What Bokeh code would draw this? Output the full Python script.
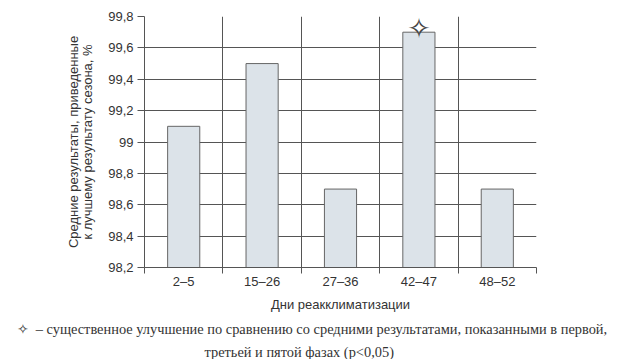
from bokeh.plotting import figure
from bokeh.models import FixedTicker, Range1d, Title, ColumnDataSource
from bokeh.core.properties import value
from bokeh.embed import file_html
from bokeh.resources import INLINE

# ---- data ----
categories = ["2–5", "15–26", "27–36", "42–47", "48–52"]
values = [99.1, 99.5, 98.7, 99.7, 98.7]
significant = ["42–47"]
y_ticks = [98.2, 98.4, 98.6, 98.8, 99.0, 99.2, 99.4, 99.6, 99.8]
y_tick_labels = ["98,2", "98,4", "98,6", "98,8", "99", "99,2", "99,4", "99,6", "99,8"]
x_label = "Дни реакклиматизации"
y_label = "Средние результаты, приведенные\nк лучшему результату сезона, %"
footnote_1 = "✧\u00a0\u00a0– существенное улучшение по сравнению со средними результатами, показанными в первой,"
footnote_2 = "третьей и пятой фазах (p<0,05)"
star_char = "✧"

GRID = "#555555"
TEXT = "#333333"
SANS = "Liberation Sans"
SERIF = "Liberation Serif"

n = len(categories)
centers = [i + 0.5 for i in range(n)]
bottoms = [y_ticks[0]] * n
src = ColumnDataSource(dict(x=centers, top=values, bottom=bottoms))

p = figure(width=617, height=359, output_backend="svg", toolbar_location=None,
           x_range=Range1d(0, n), y_range=Range1d(y_ticks[0], y_ticks[-1]),
           min_border_left=144, min_border_right=81, min_border_top=16, min_border_bottom=89)
p.outline_line_color = None
p.background_fill_color = "white"

p.vbar(x="x", top="top", bottom="bottom", width=0.41, source=src,
       fill_color="#dce3e9", line_color="#666666", line_width=1)

# star markers for significant categories
sx = [categories.index(c) + 0.5 for c in significant]
sy = [values[categories.index(c)] for c in significant]
p.text(x=sx, y=sy, text=[star_char] * len(sx), text_align="center", text_baseline="middle",
       y_offset=-4, text_font=value("DejaVu Sans"), text_font_size="28px", text_color="#444444")

# axes
xt = FixedTicker(ticks=centers, minor_ticks=list(range(n + 1)))
p.xaxis.ticker = xt
p.xaxis.major_label_overrides = {c: lab for c, lab in zip(centers, categories)}
p.xaxis.major_tick_out = 0
p.xaxis.major_tick_in = 0
p.xaxis.minor_tick_out = 6
p.xaxis.minor_tick_in = 0
p.xaxis.minor_tick_line_color = GRID
p.xaxis.major_label_standoff = 0
p.xaxis.axis_label = x_label
p.xaxis.axis_label_standoff = 5

p.yaxis.ticker = FixedTicker(ticks=y_ticks)
p.yaxis.major_label_overrides = {t: lab for t, lab in zip(y_ticks, y_tick_labels)}
p.yaxis.major_tick_out = 7
p.yaxis.major_tick_in = 0
p.yaxis.minor_tick_line_color = None
p.yaxis.major_label_standoff = 4
p.yaxis.axis_label = y_label
p.yaxis.axis_label_standoff = 10
p.yaxis.axis_label_text_line_height = 0.95

for ax in (p.xaxis, p.yaxis):
    ax.axis_line_color = GRID
    ax.major_tick_line_color = GRID
    ax.major_label_text_font = SANS
    ax.major_label_text_font_size = "13px"
    ax.major_label_text_color = TEXT
    ax.axis_label_text_font = SANS
    ax.axis_label_text_font_size = "13px"
    ax.axis_label_text_font_style = "normal"
    ax.axis_label_text_color = TEXT

p.xgrid.ticker = FixedTicker(ticks=list(range(n + 1)))
p.xgrid.grid_line_color = GRID
p.ygrid.grid_line_color = GRID

# footnote
t1 = Title(text=footnote_1, align="left", offset=-128, standoff=9, text_font=SERIF,
           text_font_size="14.4px", text_font_style="normal", text_color=TEXT)
t2 = Title(text=footnote_2, align="left", offset=60, standoff=0, text_font=SERIF,
           text_font_size="14.4px", text_font_style="normal", text_color=TEXT)
p.add_layout(t1, "below")
p.add_layout(t2, "below")

open("out.html", "w").write(file_html(p, INLINE))
